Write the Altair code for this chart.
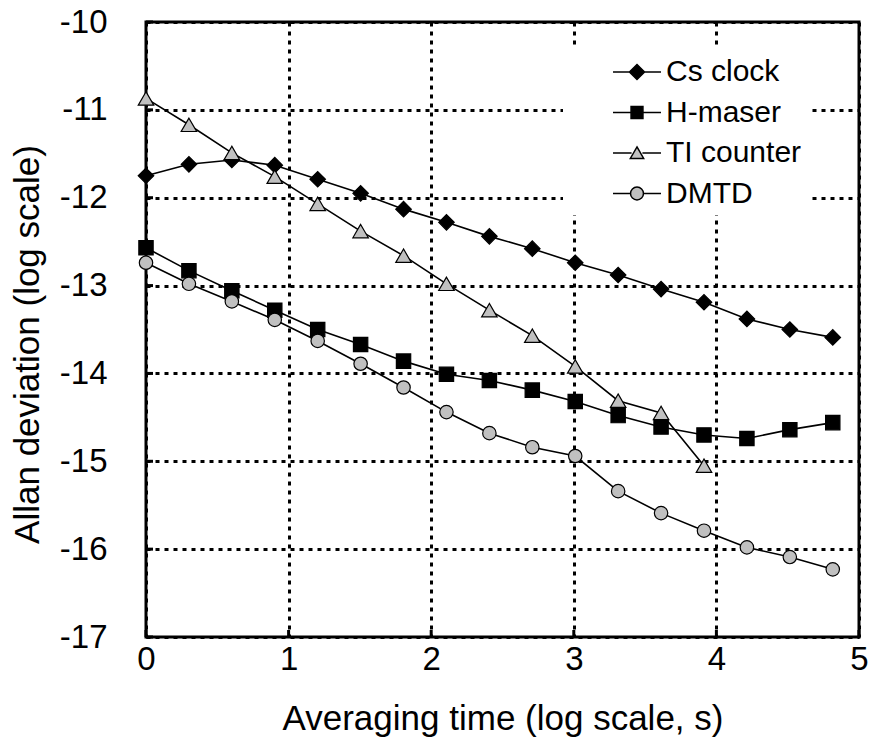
import altair as alt
import pandas as pd

# log10 of the averaging time (s)
log_tau = [0.0, 0.301, 0.602, 0.903, 1.204, 1.505, 1.806, 2.107, 2.408,
           2.709, 3.010, 3.311, 3.612, 3.913, 4.214, 4.515, 4.816]

# log10 of the Allan deviation for each source
cs_clock = [-11.75, -11.62, -11.57, -11.63, -11.79, -11.95, -12.13, -12.28, -12.44,
            -12.58, -12.74, -12.88, -13.04, -13.19, -13.38, -13.50, -13.59]
h_maser = [-12.57, -12.83, -13.06, -13.28, -13.50, -13.67, -13.86, -14.01, -14.08,
           -14.19, -14.32, -14.48, -14.61, -14.70, -14.74, -14.64, -14.56]
ti_counter = [-10.87, -11.17, -11.49, -11.76, -12.07, -12.38, -12.66, -12.98, -13.28,
              -13.57, -13.92, -14.31, -14.45, -15.05]
dmtd = [-12.74, -12.98, -13.18, -13.39, -13.63, -13.89, -14.16, -14.44, -14.68,
        -14.84, -14.94, -15.34, -15.59, -15.79, -15.98, -16.09, -16.23]

series_names = ["Cs clock", "H-maser", "TI counter", "DMTD"]
x_ticks = [0, 1, 2, 3, 4, 5]
y_ticks = [-17, -16, -15, -14, -13, -12, -11, -10]

rows = []
for name, vals in zip(series_names, [cs_clock, h_maser, ti_counter, dmtd]):
    for t, v in zip(log_tau, vals):
        rows.append({"series": name, "name": name, "tau": t, "adev": v})
df = pd.DataFrame(rows)

FONT = "Liberation Sans"
fills = ["black", "black", "#c0c0c0", "#c0c0c0"]
marker_shapes = ["diamond", "square", "triangle-up", "circle"]
marker_sizes = [240, 205, 240, 180]

# legend keys: a short line with the marker in the middle
legend_paths = [
    "M-1.333,0L-0.42,0M0.42,0L1.333,0M0,-0.42L0.42,0L0,0.42L-0.42,0Z",
    "M-1.333,0L-0.33,0M0.33,0L1.333,0M-0.33,-0.33L0.33,-0.33L0.33,0.33L-0.33,0.33Z",
    "M-1.333,0L-0.3,0M0.3,0L1.333,0M0,-0.34L0.37,0.3L-0.37,0.3Z",
    "M-1.333,0L-0.36,0M0.36,0L1.333,0M0.36,0A0.36,0.36 0 1 1 -0.36,0A0.36,0.36 0 1 1 0.36,0Z",
]

x_scale = alt.Scale(domain=[0, 5], nice=False, zero=False)
y_scale = alt.Scale(domain=[-17, -10], nice=False, zero=False)

grid_style = dict(grid=True, gridColor="black", gridDash=[4, 5], gridWidth=3,
                  gridOpacity=1, ticks=False, tickSize=0, domain=False,
                  labelFont=FONT, labelColor="black", labelFlush=False,
                  labelOverlap=False, labelExpr="toString(datum.value)",
                  titleFont=FONT, titleFontWeight="normal", titleColor="black")

x_axis = alt.Axis(title="Averaging time (log scale, s)", values=x_ticks,
                  labelFontSize=33, labelPadding=6, titleFontSize=35,
                  titleY=92, titleBaseline="alphabetic", **grid_style)
y_axis = alt.Axis(title="Allan deviation (log scale)", values=y_ticks,
                  labelFontSize=33, labelPadding=39, titleFontSize=35,
                  titleX=-108, titleY=322, titleAngle=270, titleAlign="center",
                  titleBaseline="alphabetic", **grid_style)

base = alt.Chart(df)

lines = base.mark_line(color="black", strokeWidth=1.6).encode(
    x=alt.X("tau:Q", scale=x_scale, axis=x_axis),
    y=alt.Y("adev:Q", scale=y_scale, axis=y_axis),
    detail="series:N",
    order="tau:Q",
)

# one marker layer per source
marker_layers = [
    base.transform_filter(alt.datum.series == name)
    .mark_point(filled=True, opacity=1, stroke="black", strokeWidth=1.2,
                shape=shp, fill=fc, size=sz)
    .encode(x="tau:Q", y="adev:Q")
    for name, shp, fc, sz in zip(series_names, marker_shapes, fills, marker_sizes)
]

# inward tick marks on the frame
y_tick_marks = alt.Chart(pd.DataFrame({"adev": y_ticks})).mark_rule(color="black", strokeWidth=3).encode(
    y="adev:Q", x=alt.value(0), x2=alt.value(7)
)
x_tick_marks = alt.Chart(pd.DataFrame({"tau": x_ticks})).mark_rule(color="black", strokeWidth=3).encode(
    x="tau:Q", y=alt.value(615), y2=alt.value(608)
)

legend_def = dict(
    orient="none", legendX=417, legendY=25, title=None, fillColor="white",
    padding=6, symbolOffset=49, symbolSize=1296, symbolStrokeColor="black",
    symbolStrokeWidth=1.5, symbolOpacity=1, labelFont=FONT, labelFontSize=30,
    labelColor="black", labelOffset=10, rowPadding=6.5, labelLimit=400,
    labelExpr="datum.label + '\u00a0\u00a0\u00a0\u00a0\u00a0'",
)

key = base.transform_filter("false").mark_point(filled=True, opacity=1, strokeWidth=1.5).encode(
    x="tau:Q",
    y="adev:Q",
    shape=alt.Shape("name:N", scale=alt.Scale(domain=series_names, range=legend_paths),
                    legend=alt.Legend(**legend_def)),
    fill=alt.Fill("name:N", scale=alt.Scale(domain=series_names, range=fills),
                  legend=alt.Legend(**legend_def)),
    stroke=alt.Stroke("name:N", scale=alt.Scale(domain=series_names, range=["black"] * 4),
                      legend=alt.Legend(**legend_def)),
)

chart = (
    alt.layer(lines, *marker_layers, y_tick_marks, x_tick_marks, key)
    .properties(
        width=713,
        height=615,
        autosize=alt.AutoSizeParams(type="none"),
        padding={"left": 146, "top": 22, "right": 14, "bottom": 112},
        background="white",
    )
    .configure_view(stroke="black", strokeWidth=3)
)

chart.save("out.html", embed_options={"renderer": "svg", "actions": False})
